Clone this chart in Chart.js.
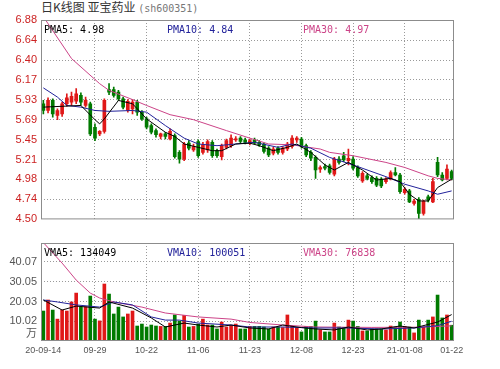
<!DOCTYPE html>
<html>
<head>
<meta charset="utf-8">
<script src="https://cdn.jsdelivr.net/npm/chart.js@4.4.0/dist/chart.umd.min.js"></script>
<style>
  body { margin: 0; background: #fff; width: 500px; height: 369px; position: relative; overflow: hidden; }
  #title { position: absolute; left: 41px; top: -2px; font: 12px "Noto Sans CJK SC"; color: #333; white-space: nowrap; }
  #title span { font: 10px "DejaVu Sans Mono"; color: #777; }
  canvas { position: absolute; left: 0; }
  #price { top: 0; }
  #vol { top: 230px; }
</style>
</head>
<body>
<div id="title">日K线图 亚宝药业 <span>(sh600351)</span></div>
<canvas id="price" width="500" height="230"></canvas>
<canvas id="vol" width="500" height="139"></canvas>
<script>
// trading days 2020-09-14 .. 2021-01-22
const days = (p, s) => s.split(' ').map(d => p + d);
const dates = [
  ...days('2020-09-', '14 15 16 17 18 21 22 23 24 25 28 29 30'),
  ...days('2020-10-', '09 12 13 14 15 16 19 20 21 22 23 26 27 28 29 30'),
  ...days('2020-11-', '02 03 04 05 06 09 10 11 12 13 16 17 18 19 20 23 24 25 26 27 30'),
  ...days('2020-12-', '01 02 03 04 07 08 09 10 11 14 15 16 17 18 21 22 23 24 25 28 29 30 31'),
  ...days('2021-01-', '04 05 06 07 08 11 12 13 14 15 18 19 20 21 22')
];
const xTickIdx = [0, 11, 22, 33, 44, 55, 66, 77, 87];
const xTickText = ['20-09-14', '09-29', '10-22', '11-06', '11-23', '12-08', '12-23', '21-01-08', '01-22'];

const opens  = [5.88,5.80,5.92,5.74,5.76,5.88,5.90,5.91,5.98,5.86,5.88,5.60,5.52,5.55,6.05,6.05,6.02,5.94,5.80,5.82,
                5.90,5.78,5.70,5.62,5.56,5.49,5.52,5.46,5.50,5.30,5.22,5.41,5.33,5.43,5.30,5.33,5.42,5.32,5.25,5.36,
                5.38,5.45,5.47,5.45,5.41,5.45,5.42,5.40,5.35,5.29,5.35,5.30,5.34,5.37,5.45,5.46,5.38,5.30,5.24,5.10,
                5.13,5.14,5.04,5.22,5.26,5.20,5.22,5.12,4.96,5.02,5.00,4.99,4.98,4.95,4.99,5.06,5.03,4.82,4.84,4.69,
                4.74,4.57,4.77,4.71,5.18,5.03,4.99,5.07];
const highs  = [5.92,5.95,5.94,5.82,5.90,6.00,6.02,6.06,6.01,5.96,5.90,5.64,5.56,5.94,6.12,6.08,6.04,5.96,5.93,5.93,
                5.92,5.80,5.72,5.64,5.58,5.53,5.54,5.58,5.52,5.32,5.42,5.44,5.40,5.45,5.42,5.45,5.44,5.34,5.40,5.46,
                5.51,5.49,5.49,5.47,5.46,5.47,5.44,5.41,5.37,5.36,5.37,5.37,5.42,5.50,5.49,5.48,5.40,5.32,5.26,5.14,
                5.16,5.16,5.24,5.25,5.30,5.34,5.25,5.14,5.07,5.04,5.02,5.01,5.00,5.00,5.08,5.12,5.05,4.88,4.86,4.74,
                4.76,4.73,4.79,4.99,5.24,5.06,5.15,5.09];
const lows   = [5.76,5.77,5.72,5.69,5.73,5.85,5.86,5.88,5.86,5.84,5.50,5.44,5.50,5.53,5.99,5.96,5.92,5.82,5.78,5.76,
                5.74,5.68,5.58,5.52,5.48,5.46,5.46,5.45,5.23,5.17,5.20,5.33,5.31,5.24,5.28,5.30,5.24,5.24,5.21,5.34,
                5.36,5.43,5.41,5.40,5.39,5.40,5.37,5.29,5.25,5.27,5.28,5.28,5.32,5.35,5.42,5.35,5.25,5.20,4.99,5.06,
                5.09,5.04,5.02,5.16,5.19,5.15,5.09,5.00,4.94,4.97,4.93,4.89,4.88,4.93,4.97,5.02,4.81,4.80,4.70,4.67,
                4.51,4.55,4.71,4.70,5.01,4.96,4.97,4.97];
const closes = [5.80,5.92,5.76,5.80,5.88,5.95,5.97,6.00,5.90,5.92,5.52,5.47,5.55,5.92,6.02,5.98,5.94,5.84,5.91,5.90,
                5.78,5.70,5.60,5.54,5.51,5.52,5.49,5.55,5.25,5.22,5.40,5.35,5.37,5.26,5.39,5.43,5.26,5.26,5.38,5.44,
                5.47,5.46,5.43,5.42,5.44,5.41,5.39,5.31,5.27,5.34,5.30,5.35,5.40,5.47,5.47,5.37,5.27,5.23,5.09,5.12,
                5.11,5.06,5.22,5.18,5.21,5.23,5.11,5.02,5.05,4.99,4.95,4.91,4.90,4.98,5.06,5.03,4.83,4.86,4.71,4.72,
                4.57,4.72,4.73,4.95,5.03,4.97,5.10,4.99];
// volume, in 万
const volumes = [15.2,20.8,15.7,11.1,15.7,15.2,19.8,24.3,17.2,17.4,22.8,11.1,10.2,28.9,23.8,13.7,17.2,12.2,13.7,15.2,
                 7.6,8.6,7.1,8.1,7.6,7.4,7.4,9.1,13.2,10.1,13.0,7.1,7.4,8.6,11.1,8.1,8.1,6.1,9.6,7.1,
                 7.9,8.6,6.1,6.1,7.4,7.4,7.4,7.1,6.1,7.1,7.1,6.8,13.2,7.4,6.8,4.6,7.4,7.4,10.1,5.6,
                 4.6,4.6,9.1,7.1,6.6,10.6,10.1,7.4,5.1,5.1,6.1,6.1,6.1,5.6,7.6,7.1,9.6,7.4,7.1,4.1,
                 10.6,7.1,10.6,12.2,23.3,11.7,13.2,8.0];

// moving averages: [day index, value]
const pma5  = [[0,5.84],[8,5.86],[11,5.69],[12,5.64],[13,5.70],[16,5.92],[19,5.88],[22,5.70],[26,5.54],[28,5.49],
               [30,5.40],[33,5.36],[36,5.32],[38,5.32],[41,5.40],[44,5.41],[46,5.38],[49,5.32],[52,5.36],[54,5.40],
               [57,5.30],[60,5.15],[62,5.09],[65,5.18],[68,5.09],[71,4.97],[74,4.99],[76,4.95],[78,4.80],[80,4.72],
               [82,4.72],[84,4.88],[87,4.98]];
const pma10 = [[0,6.07],[3,5.96],[5,5.86],[8,5.84],[11,5.80],[14,5.79],[19,5.80],[22,5.78],[26,5.62],[30,5.47],
               [33,5.40],[37,5.38],[41,5.40],[45,5.42],[50,5.36],[53,5.40],[57,5.35],[61,5.24],[66,5.15],[73,5.01],
               [77,4.92],[82,4.84],[84,4.80],[87,4.84]];
const pma30 = [[0,6.92],[6,6.42],[12,6.12],[14,6.04],[19,5.93],[22,5.86],[27,5.75],[32,5.69],[39,5.56],[44,5.47],
               [48,5.40],[53,5.39],[59,5.34],[61,5.30],[66,5.26],[73,5.18],[77,5.12],[82,5.02],[84,4.99],[87,4.97]];
const vma5  = [[0,20.8],[4,15.7],[7,17.7],[12,16.7],[14,19.8],[19,16.7],[23,11.7],[26,7.1],[30,9.1],[33,8.1],
               [37,7.1],[40,8.1],[44,6.6],[48,6.1],[51,8.1],[55,6.8],[58,6.1],[62,5.6],[65,7.1],[69,5.6],
               [72,6.1],[76,7.6],[79,6.6],[84,9.6],[87,13.4]];
const vma10 = [[0,20.8],[3,19.8],[7,18.3],[12,17.2],[15,19.8],[19,18.3],[23,12.2],[26,10.6],[29,10.6],[33,9.1],
               [40,8.1],[44,7.1],[51,7.1],[58,6.6],[65,6.6],[72,6.1],[79,6.6],[84,7.8],[87,10.0]];
const vma30 = [[0,49.9],[4,39.5],[7,30.9],[10,24.3],[12,21.8],[15,19.8],[21,17.2],[26,14.2],[33,12.2],[40,11.1],
               [44,9.4],[51,8.1],[58,7.1],[70,6.9],[80,7.0],[87,7.7]];

const priceTicks = [4.50, 4.74, 4.98, 5.21, 5.45, 5.69, 5.93, 6.17, 6.40, 6.64, 6.88];
const volTicks = [10.02, 20.03, 30.05, 40.07];
const volUnit = '万';
const priceLegend = ['PMA5: 4.98', 'PMA10: 4.84', 'PMA30: 4.97'];
const volLegend = ['VMA5: 134049', 'VMA10: 100051', 'VMA30: 76838'];

const UP = '#e01818', DOWN = '#007a00';
const C5 = '#000000', C10 = '#22229a', C30 = '#cc4488';
const GRID = '#9a9a9a';
const NONE = 'rgba(0,0,0,0)';
const candleColors = opens.map((o, i) => closes[i] >= o ? UP : DOWN);

Chart.defaults.font.family = '"Liberation Sans", "Noto Sans CJK SC"';
Chart.defaults.font.size = 10;

// frame round the plot plus the MA captions
const framePlugin = {
  id: 'frame',
  afterDraw(chart, args, opts) {
    const { ctx, chartArea: a } = chart;
    ctx.save();
    ctx.strokeStyle = '#8c8c8c';
    ctx.lineWidth = 1;
    ctx.strokeRect(a.left + 0.5, a.top + 0.5, a.width - 1, a.height - 1);
    ctx.font = '10px "DejaVu Sans Mono"';
    ctx.textBaseline = 'middle';
    const xs = [3, 126, 262], cols = [C5, C10, C30];
    opts.texts.forEach((t, i) => {
      ctx.fillStyle = cols[i];
      ctx.fillText(t, a.left + xs[i], a.top + 10);
    });
    ctx.restore();
  }
};

// category scale: x must be the label, a plain number is taken as the array slot
const line = (pts, color) => ({
  type: 'line',
  data: pts.map(([i, v]) => ({ x: dates[i], y: v })),
  borderColor: color, borderWidth: 1, pointRadius: 0, tension: 0, order: 0
});

function xScale(showLabels) {
  return {
    type: 'category',
    offset: true,
    grid: {
      offset: false, drawTicks: false,
      color: c => (c.index === 0 || c.index === xTickIdx.length - 1) ? NONE : GRID
    },
    border: { display: false, dash: [1, 2] },
    afterBuildTicks: s => { s.ticks = xTickIdx.map(i => ({ value: i })); },
    afterFit: s => { s.height = showLabels ? 28 : 0; },
    ticks: {
      display: showLabels, autoSkip: false, maxRotation: 0, padding: 4,
      color: '#555', font: { size: 9 },
      callback: (v, i) => xTickText[i]
    }
  };
}

new Chart(document.getElementById('price'), {
  type: 'bar',
  data: {
    labels: dates,
    datasets: [
      line(pma5, C5), line(pma10, C10), line(pma30, C30),
      { data: lows.map((l, i) => [l, highs[i]]), backgroundColor: candleColors,
        barThickness: 1, grouped: false, order: 2 },
      { data: opens.map((o, i) => [o, closes[i]]), backgroundColor: candleColors,
        barThickness: 3, minBarLength: 1, grouped: false, order: 1 }
    ]
  },
  options: {
    responsive: false, animation: false,
    layout: { padding: { top: 20, right: 46, bottom: 4, left: 0 } },
    plugins: { legend: { display: false }, tooltip: { enabled: false }, frame: { texts: priceLegend } },
    scales: {
      x: xScale(false),
      y: {
        min: 4.50, max: 6.88,
        grid: { drawTicks: false, color: c => (c.index === 0 || c.index === priceTicks.length - 1) ? NONE : GRID },
        border: { display: false, dash: [1, 2] },
        afterBuildTicks: s => { s.ticks = priceTicks.map(v => ({ value: v })); },
        afterFit: s => { s.width = 41; },
        ticks: { padding: 4, color: '#cc2222', font: { size: 11 }, callback: v => v.toFixed(2) }
      }
    }
  },
  plugins: [framePlugin]
});

new Chart(document.getElementById('vol'), {
  type: 'bar',
  data: {
    labels: dates,
    datasets: [
      line(vma5, C5), line(vma10, C10), line(vma30, C30),
      { data: volumes, backgroundColor: candleColors, barThickness: 3, grouped: false, order: 1 }
    ]
  },
  options: {
    responsive: false, animation: false,
    layout: { padding: { top: 13, right: 46, bottom: 0, left: 0 } },
    plugins: { legend: { display: false }, tooltip: { enabled: false }, frame: { texts: volLegend } },
    scales: {
      x: xScale(true),
      y: {
        min: 0, max: 49.7,
        grid: { drawTicks: false, color: c => c.index === 0 ? NONE : GRID },
        border: { display: false, dash: [1, 2] },
        afterBuildTicks: s => { s.ticks = [3.5, ...volTicks].map(v => ({ value: v })); },
        afterFit: s => { s.width = 41; },
        ticks: { padding: 4, color: '#555', font: { size: 11 },
                 callback: (v, i) => i === 0 ? volUnit : v.toFixed(2) }
      }
    }
  },
  plugins: [framePlugin]
});
</script>
</body>
</html>
